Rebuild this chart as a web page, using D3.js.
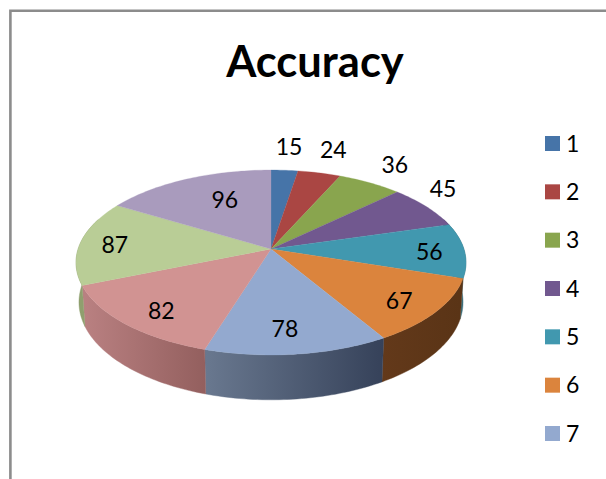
<!DOCTYPE html>
<html><head><meta charset="utf-8">
<script src="https://cdn.jsdelivr.net/npm/d3@7"></script>
<style>html,body{margin:0;padding:0;background:#fff;overflow:hidden}text{font-family:Lato,"Open Sans",sans-serif;fill:#000}</style>
</head><body><svg id="c" width="606" height="479"></svg>
<script>
const categories=[1,2,3,4,5,6,7,8,9,10];
const values=[15,24,36,45,56,67,78,82,87,96];
const colors=["#4674a8","#aa4643","#89a54e","#71588f","#4198af","#db843d","#93a9cf","#d19392","#b9cd96","#a99bbd"];
const sideLeft=["#2a4565","#662a28","#52632f","#443556","#3c6f7c","#63391a","#69788f","#b98081","#9aa97c","#655d71"];
const sideRight=["#2a4565","#662a28","#52632f","#443556","#3c6f7c","#5a3416","#36425a","#935f5e","#8f9f6e","#655d71"];
const labelOffsets=[[4.5,-23],[14,-23],[25,-18],[16.5,-18],[-35,1.5],[-37.5,-10],[-12.6,-25],[36,-13],[34,2.7],[38,21]];
const legendShown=7;

const svg=d3.select("#c");
const defs=svg.append("defs");
const b=0.146;
function project(t,f){
  const u=Math.sin(t),v=-Math.cos(t),d=1-b*v;
  return [f.cx+f.c*u/d, f.cy+f.a*v/d];
}
const topFace={cx:271,cy:249,c:192.9,a:90.5};
const baseFace={cx:271,cy:288,c:190,a:95.5};
const pie=d3.pie().sort(null).value(d=>d)(values);
const line=d3.line();
const rim=(a0,a1,f)=>{const n=Math.max(2,Math.ceil((a1-a0)/0.02));return d3.range(n+1).map(i=>project(a0+(a1-a0)*i/n,f));};

svg.append("path").attr("d","M606,10.8H10.4V479").attr("fill","none").attr("stroke","#8c8c8c").attr("stroke-width",2.6);

const rad=d3.scaleLinear().domain([0,180]).range([0,Math.PI]);
const visA=rad(70),visB=rad(290);
pie.forEach((s,i)=>{
  const a0=Math.max(s.startAngle,visA),a1=Math.min(s.endAngle,visB);
  if(a1<=a0)return;
  const g=defs.append("linearGradient").attr("id","side"+i).attr("gradientUnits","userSpaceOnUse")
    .attr("x1",project(a1,baseFace)[0]).attr("x2",project(a0,baseFace)[0]).attr("y1",0).attr("y2",0);
  g.append("stop").attr("offset",0).attr("stop-color",sideLeft[i]);
  g.append("stop").attr("offset",1).attr("stop-color",sideRight[i]);
  const pts=rim(a0,a1,topFace).concat(rim(a0,a1,baseFace).reverse());
  svg.append("path").attr("d",line(pts)+"Z").attr("fill","url(#side"+i+")").attr("stroke","url(#side"+i+")").attr("stroke-width",.4);
});
pie.forEach((s,i)=>{
  const pts=[[topFace.cx,topFace.cy]].concat(rim(s.startAngle,s.endAngle,topFace));
  svg.append("path").attr("d",line(pts)+"Z").attr("fill",colors[i]).attr("stroke",colors[i]).attr("stroke-width",.3);
});
pie.forEach((s,i)=>{
  const p=project((s.startAngle+s.endAngle)/2,topFace);
  svg.append("text").attr("x",p[0]+labelOffsets[i][0]).attr("y",p[1]+labelOffsets[i][1]).attr("dy",".35em")
    .attr("text-anchor","middle").attr("font-size",23).text(values[i]);
});
svg.append("text").attr("x",315).attr("y",62).attr("dy",".35em").attr("text-anchor","middle").attr("font-size",43.5).attr("font-weight",700).text("Accuracy");
const ly=d3.scaleLinear().domain([0,6]).range([143.5,433.5]);
categories.slice(0,legendShown).forEach((c,i)=>{
  svg.append("rect").attr("x",545).attr("y",ly(i)-7.5).attr("width",15).attr("height",15).attr("fill",colors[i]);
  svg.append("text").attr("x",566).attr("y",ly(i)).attr("dy",".35em").attr("font-size",23).text(c);
});
</script></body></html>
